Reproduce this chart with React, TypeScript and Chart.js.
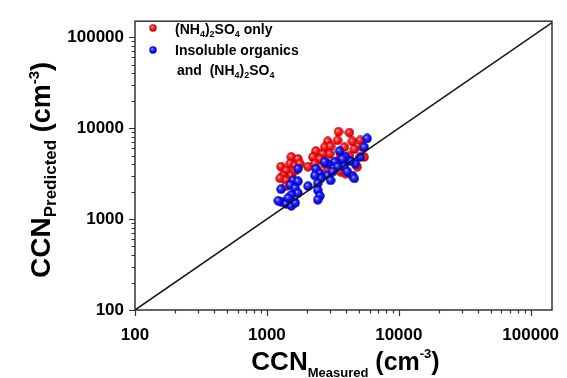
import React, { useEffect, useRef } from "react";
import { Chart, registerables } from "chart.js";
Chart.register(...registerables);

// (NH4)2SO4 only — red
const asMeasured = [3490, 4220, 2890, 3430, 4450, 5100, 2740, 3040, 3870, 4600, 5280, 2350, 2650, 2990, 3620, 4220, 5470, 2230, 2520, 1530, 1720, 1500, 1640, 1780, 2050, 2310, 2740, 1280, 1400, 1530, 1330, 1260, 1400, 1640, 2430, 2890, 3620, 3940, 4840, 1400, 3430, 3870];
const asPredicted = [9150, 8930, 7150, 7330, 7150, 7330, 6170, 6320, 6170, 5870, 6170, 5590, 5190, 5190, 5190, 4930, 4820, 4820, 4580, 4820, 4580, 4060, 3860, 4060, 3770, 4060, 4060, 3770, 3410, 3010, 3010, 2800, 2660, 3410, 3410, 3580, 3330, 3170, 3770, 2300, 4360, 4260];

// Insoluble organics and (NH4)2SO4 — blue
const orgMeasured = [5750, 5470, 5100, 4680, 4290, 3940, 3550, 3740, 3260, 2890, 2740, 2350, 2520, 2890, 3040, 2560, 2310, 2430, 2050, 2430, 2520, 2430, 3870, 4450, 4600, 4070, 1720, 1580, 1720, 1500, 1280, 1640, 1720, 1530, 1280, 1400, 1530, 1640, 1220, 1450, 3430, 3150];
const orgPredicted = [7700, 6170, 4820, 4060, 4360, 4820, 5590, 4580, 4260, 4060, 4260, 3580, 3170, 3010, 2660, 2800, 3010, 2470, 2300, 2080, 1800, 1630, 3770, 3010, 2800, 3330, 3580, 2660, 2600, 2360, 2130, 2190, 1930, 1840, 1550, 1470, 1400, 1510, 1590, 1710, 3770, 3330];

const oneToOne = [100, 150000];
const tickLabels = ["100", "1000", "10000", "100000"];
const X_MIN = 100, X_MAX = 145000, Y_MIN = 100, Y_MAX = 150000;

const FF = "'Liberation Sans', Arial, Helvetica, sans-serif";

type Seg = { t: string; size: number; dy: number };

function setFont(ctx: CanvasRenderingContext2D, size: number) {
  ctx.font = `bold ${size}px ${FF}`;
}
function richWidth(ctx: CanvasRenderingContext2D, segs: Seg[]) {
  let w = 0;
  for (const s of segs) { setFont(ctx, s.size); w += ctx.measureText(s.t).width; }
  return w;
}
function drawRich(ctx: CanvasRenderingContext2D, segs: Seg[], x: number, y: number) {
  let cx = x;
  ctx.textAlign = "left";
  ctx.textBaseline = "alphabetic";
  for (const s of segs) {
    setFont(ctx, s.size);
    ctx.fillText(s.t, cx, y + s.dy);
    cx += ctx.measureText(s.t).width;
  }
}

function makeBall(light: string, mid: string, base: string, dark: string, size: number) {
  const c = document.createElement("canvas");
  c.width = size; c.height = size;
  const g = c.getContext("2d")!;
  const r = size / 2;
  const grad = g.createRadialGradient(r * 0.75, r * 0.7, 0, r, r, r);
  grad.addColorStop(0, light);
  grad.addColorStop(0.3, mid);
  grad.addColorStop(0.75, base);
  grad.addColorStop(1, dark);
  g.fillStyle = grad;
  g.beginPath();
  g.arc(r, r, r - 0.3, 0, Math.PI * 2);
  g.fill();
  return c;
}

export default function App() {
  const ref = useRef<HTMLCanvasElement | null>(null);
  useEffect(() => {
    if (!ref.current) return;
    const redBall = makeBall("#ffd8d8", "#ff3a3a", "#e80000", "#8a0000", 10);
    const blueBall = makeBall("#d8d8ff", "#3a3aff", "#0000e0", "#000080", 10);
    const redSmall = makeBall("#ffd8d8", "#ff3a3a", "#e80000", "#8a0000", 8);
    const blueSmall = makeBall("#d8d8ff", "#3a3aff", "#0000e0", "#000080", 8);

    const decor = {
      id: "decor",
      afterDraw(chart: any) {
        const ctx: CanvasRenderingContext2D = chart.ctx;
        const { left, right, top, bottom } = chart.chartArea;
        const xs = chart.scales.x, ys = chart.scales.y;
        ctx.save();
        ctx.strokeStyle = "#333";
        ctx.lineWidth = 1.5;
        ctx.strokeRect(left, top, right - left, bottom - top);
        // ticks
        ctx.lineWidth = 1.2;
        ctx.beginPath();
        for (let d = 100; d <= 100000; d *= 10) {
          for (let k = 1; k <= 9; k++) {
            const v = k * d;
            const len = k === 1 ? 6 : 3.5;
            if (v >= X_MIN && v <= X_MAX) {
              const px = Math.round(xs.getPixelForValue(v)) + 0.5;
              ctx.moveTo(px, bottom); ctx.lineTo(px, bottom + len);
            }
            if (v >= Y_MIN && v <= Y_MAX) {
              const py = Math.round(ys.getPixelForValue(v)) + 0.5;
              ctx.moveTo(left, py); ctx.lineTo(left - len, py);
            }
          }
        }
        ctx.stroke();

        // legend
        ctx.fillStyle = "#000";
        ctx.drawImage(redSmall, 149, 24);
        ctx.drawImage(blueSmall, 149, 46);
        drawRich(ctx, [
          { t: "(NH", size: 14, dy: 0 }, { t: "4", size: 9, dy: 3 }, { t: ")", size: 14, dy: 0 },
          { t: "2", size: 9, dy: 3 }, { t: "SO", size: 14, dy: 0 }, { t: "4", size: 9, dy: 3 },
          { t: " only", size: 14, dy: 0 },
        ], 175, 34);
        drawRich(ctx, [{ t: "Insoluble organics", size: 14, dy: 0 }], 175, 55);
        drawRich(ctx, [
          { t: "and  (NH", size: 14, dy: 0 }, { t: "4", size: 9, dy: 3 }, { t: ")", size: 14, dy: 0 },
          { t: "2", size: 9, dy: 3 }, { t: "SO", size: 14, dy: 0 }, { t: "4", size: 9, dy: 3 },
        ], 177, 75);

        // x title
        const xt: Seg[] = [
          { t: "CCN", size: 26, dy: 0 }, { t: "Measured", size: 13, dy: 7 },
          { t: " (cm", size: 25, dy: 0 }, { t: "-3", size: 13, dy: -12 }, { t: ")", size: 25, dy: 0 },
        ];
        const xw = richWidth(ctx, xt);
        drawRich(ctx, xt, (left + right) / 2 - xw / 2 + 2, 370);

        // y title
        const yt: Seg[] = [
          { t: "CCN", size: 28, dy: 0 }, { t: "Predicted", size: 17, dy: 6 },
          { t: " (cm", size: 27, dy: 0 }, { t: "-3", size: 15, dy: -11 }, { t: ")", size: 27, dy: 0 },
        ];
        const yw = richWidth(ctx, yt);
        ctx.translate(50, 170);
        ctx.rotate(-Math.PI / 2);
        drawRich(ctx, yt, -yw / 2, 0);
        ctx.restore();
      },
    };

    const tickFont = { family: FF, size: 17, weight: "bold" as const };
    const chart = new Chart(ref.current, {
      type: "scatter",
      data: {
        datasets: [
          {
            label: "1:1",
            data: oneToOne.map((v) => ({ x: v, y: v })),
            showLine: true,
            borderColor: "#111",
            borderWidth: 1.5,
            pointRadius: 0,
          },
          {
            label: "Insoluble organics and (NH4)2SO4",
            data: orgMeasured.map((m, i) => ({ x: m, y: orgPredicted[i] })),
            pointStyle: blueBall as any,
            pointRadius: 5,
          },
          {
            label: "(NH4)2SO4 only",
            data: asMeasured.map((m, i) => ({ x: m, y: asPredicted[i] })),
            pointStyle: redBall as any,
            pointRadius: 5,
          },
        ],
      },
      options: {
        animation: false,
        responsive: false,
        layout: { padding: { top: 13, right: 10, left: 0, bottom: 0 } },
        plugins: { legend: { display: false }, tooltip: { enabled: false } },
        scales: {
          x: {
            type: "logarithmic",
            min: X_MIN,
            max: X_MAX,
            grid: { display: false, drawTicks: false },
            border: { display: false },
            ticks: {
              autoSkip: false,
              maxRotation: 0,
              padding: 15,
              color: "#000",
              font: tickFont,
              callback: (v: any) => (tickLabels.includes(String(v)) ? String(v) : ""),
            },
            afterFit: (s: any) => { s.height = 68; },
          },
          y: {
            type: "logarithmic",
            min: Y_MIN,
            max: Y_MAX,
            grid: { display: false, drawTicks: false },
            border: { display: false },
            ticks: {
              autoSkip: false,
              padding: 11,
              color: "#000",
              font: tickFont,
              callback: (v: any) => (tickLabels.includes(String(v)) ? String(v) : ""),
            },
            afterFit: (s: any) => { s.width = 135; },
          },
        },
      },
      plugins: [decor],
    });
    return () => chart.destroy();
  }, []);
  return (
    <div style={{ position: "fixed", left: 0, top: 0, width: 567, height: 378, background: "#fff" }}>
      <canvas ref={ref} width={567} height={378} style={{ width: 567, height: 378, display: "block" }} />
    </div>
  );
}
